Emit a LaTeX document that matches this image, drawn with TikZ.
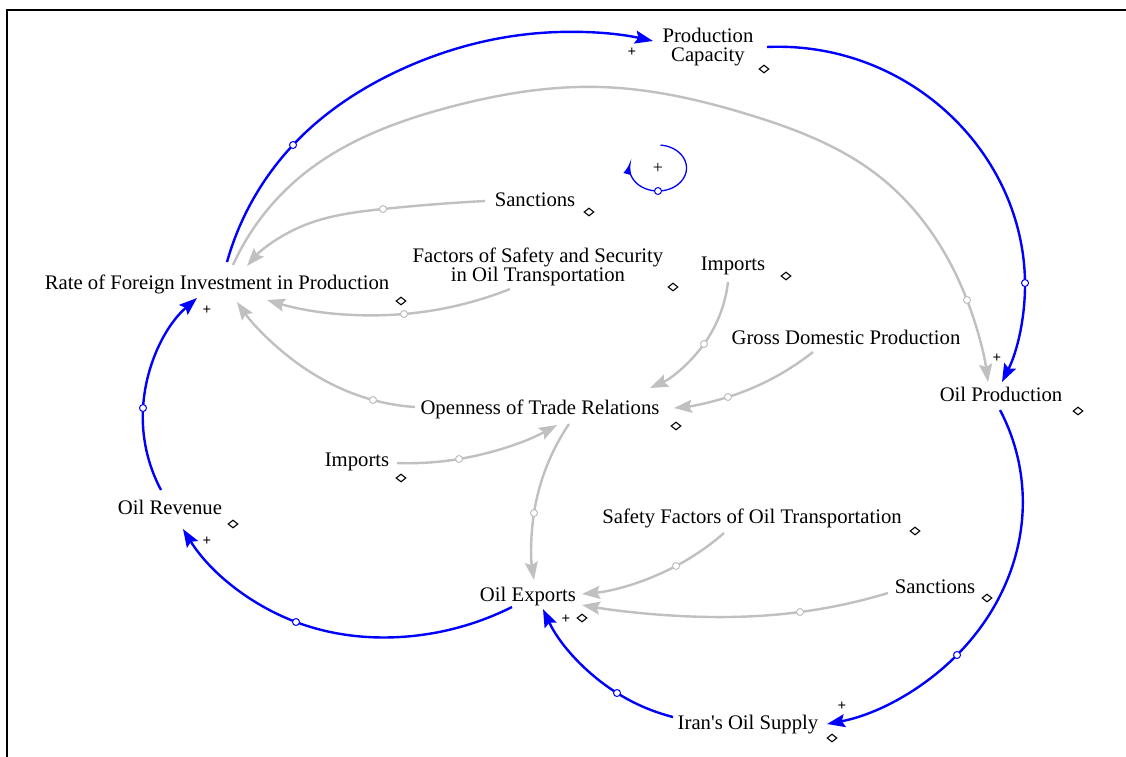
\documentclass[tikz,border=0pt]{standalone}
\usepackage{fontspec}
\setmainfont{Liberation Serif}[Ligatures=TeXOff]
\usetikzlibrary{arrows.meta,calc,shapes.geometric,hobby}
\definecolor{vblue}{RGB}{0,0,255}
\definecolor{vgray}{RGB}{192,192,192}
\begin{document}
\begin{tikzpicture}[x=1pt,y=-1pt,
  varnode/.style={inner sep=0pt, font=\fontsize{20.7}{20}\selectfont, text height=16pt, text depth=2.5pt},
  varnodetwo/.style={inner sep=0pt, align=center, font=\fontsize{20.7}{19.5}\selectfont},
  blink/.style={draw=vblue, line width=2.4pt, -{Stealth[length=18pt,width=13pt,inset=3pt]}},
  glink/.style={draw=vgray, line width=2.4pt, -{Stealth[length=18pt,width=13pt,inset=3pt]}},
  bh/.style={draw=vblue, fill=white, line width=1pt},
  gh/.style={draw=vgray, fill=white, line width=1pt},
  vdia/.style={draw=black, diamond, inner sep=0pt, minimum width=10pt, minimum height=8pt, line width=1.1pt},
  plussign/.style={inner sep=0pt, font=\fontsize{15}{15}\selectfont\bfseries},
]
\useasboundingbox (0,0) rectangle (1126,756);
\fill[white] (0,0) rectangle (1126,756);
\draw[line width=2pt] (7,757) -- (7,10) -- (1127,10);

% variables
\node[varnodetwo] (pc) at (708,47) {Production\\Capacity};
\node[varnode] (rate) at (217,283) {Rate of Foreign Investment in Production};
\node[varnode] (sancT) at (535,200) {Sanctions};
\node[varnodetwo] (fact) at (538,267) {Factors of Safety and Security\\in Oil Transportation};
\node[varnode] (impT) at (733,264) {Imports};
\node[varnode] (gdp) at (846,338) {Gross Domestic Production};
\node[varnode] (oilp) at (1001,395) {Oil Production};
\node[varnode] (open) at (540,408) {Openness of Trade Relations};
\node[varnode] (impM) at (357,460) {Imports};
\node[varnode] (rev) at (170,508) {Oil Revenue};
\node[varnode] (safe) at (752,517) {Safety Factors of Oil Transportation};
\node[varnode] (exp) at (528,595) {Oil Exports};
\node[varnode] (sancB) at (935,587) {Sanctions};
\node[varnode] (supply) at (748,723) {Iran's Oil Supply};

% connector end points
\coordinate (g1s) at ($(rate)+(16,-18)$);   \coordinate (g1e) at ($(oilp)+(-13,-13)$);
\coordinate (g2s) at ($(sancT)+(-50,1)$);   \coordinate (g2e) at ($(rate)+(30,-17)$);
\coordinate (g3s) at ($(fact)+(-28,22)$);   \coordinate (g3e) at ($(rate)+(50,17)$);
\coordinate (g4s) at ($(open)+(-125,-1)$);  \coordinate (g4e) at ($(rate)+(20,19)$);
\coordinate (g5s) at ($(impT)+(-5,18)$);    \coordinate (g5e) at ($(open)+(110,-20)$);
\coordinate (g6s) at ($(gdp)+(-33,14)$);    \coordinate (g6e) at ($(open)+(134,0)$);
\coordinate (g7s) at ($(impM)+(40,3)$);     \coordinate (g7e) at ($(open)+(17,17)$);
\coordinate (g8s) at ($(open)+(29,16)$);    \coordinate (g8e) at ($(exp)+(6,-15)$);
\coordinate (g9s) at ($(safe)+(-28,16)$);   \coordinate (g9e) at ($(exp)+(54,-1)$);
\coordinate (g10s) at ($(sancB)+(-47,6)$);  \coordinate (g10e) at ($(exp)+(54,10)$);
\coordinate (b1s) at ($(rate)+(10,-21)$);   \coordinate (b1e) at ($(pc)+(-55,-6)$);
\coordinate (b2s) at ($(pc)+(59,0)$);       \coordinate (b2e) at ($(oilp)+(1,-13)$);
\coordinate (b3s) at ($(oilp)+(-1,15)$);    \coordinate (b3e) at ($(supply)+(79,1)$);
\coordinate (b4s) at ($(supply)+(-75,-6)$); \coordinate (b4e) at ($(exp)+(15,14)$);
\coordinate (b5s) at ($(exp)+(-16,12)$);    \coordinate (b5e) at ($(rev)+(13,21)$);
\coordinate (b6s) at ($(rev)+(-9,-18)$);    \coordinate (b6e) at ($(rate)+(-20,15)$);

% link handles (positions)
\coordinate (hb1) at (293,145);  \coordinate (hb2) at (1025,283); \coordinate (hb3) at (957,655);
\coordinate (hb4) at (617,693);  \coordinate (hb5) at (296,622);  \coordinate (hb6) at (143,408);
\coordinate (hg1) at (967,300);  \coordinate (hg2) at (383,209);  \coordinate (hg3) at (404,314);
\coordinate (hg4) at (373,400);  \coordinate (hg5) at (704,344);  \coordinate (hg6) at (728,397);
\coordinate (hg7) at (459,459);  \coordinate (hg8) at (534,513);  \coordinate (hg9) at (676,566);
\coordinate (hg10) at (800,612);

% gray links
\draw[glink] (g1s) to[curve through={(300,177) .. (450,107) .. (600,87) .. (750,115) .. (880,177) .. (hg1)}] (g1e);
\draw[glink] (g2s) to[curve through={(hg2) .. (300,227)}] (g2e);
\draw[glink] (g3s) to[curve through={(hg3)}] (g3e);
\draw[glink] (g4s) to[curve through={(hg4) .. (293,360)}] (g4e);
\draw[glink] (g5s) to[curve through={(hg5)}] (g5e);
\draw[glink] (g6s) to[curve through={(hg6)}] (g6e);
\draw[glink] (g7s) to[curve through={(hg7)}] (g7e);
\draw[glink] (g8s) to[curve through={(hg8)}] (g8e);
\draw[glink] (g9s) to[curve through={(hg9)}] (g9e);
\draw[glink] (g10s) to[curve through={(hg10) .. (680,616)}] (g10e);

% blue links
\draw[blink] (b1s) to[curve through={(hb1) .. (400,70) .. (540,33)}] (b1e);
\draw[blink] (b2s) to[curve through={(960,125) .. (hb2)}] (b2e);
\draw[blink] (b3s) to[curve through={(1022,520) .. (hb3)}] (b3e);
\draw[blink] (b4s) to[curve through={(hb4)}] (b4e);
\draw[blink] (b5s) to[curve through={(400,637) .. (hb5)}] (b5e);
\draw[blink] (b6s) to[curve through={(hb6)}] (b6e);

% loop symbol
\coordinate (loop) at (658,168);
\draw[vblue, line width=1.3pt, -{Latex[length=12pt,width=8pt]}] plot[domain=-85:194, samples=60, smooth] ({658+28.5*cos(\x)},{168+23*sin(\x)});
\node[inner sep=0pt, font=\fontsize{18}{18}\selectfont] (loopplus) at (loop) {+};
\draw[bh] (658,191) circle (3.5);

% link handle circles
\foreach \h in {hb1,hb2,hb3,hb4,hb5,hb6} \draw[bh] (\h) circle (3.5);
\foreach \h in {hg1,hg2,hg3,hg4,hg5,hg6,hg7,hg8,hg9,hg10} \draw[gh] (\h) circle (3.5);

% polarity signs
\node[plussign] (s1) at (632,52) {+};
\node[plussign] (s2) at (997,358) {+};
\node[plussign] (s3) at (207,310) {+};
\node[plussign] (s4) at (207,541) {+};
\node[plussign] (s5) at (566,619) {+};
\node[plussign] (s6) at (842,706) {+};

% variable markers
\node[vdia] (d1) at (764,69) {};
\node[vdia] (d2) at (589,212) {};
\node[vdia] (d3) at (673,287) {};
\node[vdia] (d4) at (786,276) {};
\node[vdia] (d5) at (401,301) {};
\node[vdia] (d6) at (1078,411) {};
\node[vdia] (d7) at (676,426) {};
\node[vdia] (d8) at (401,478) {};
\node[vdia] (d9) at (233,524) {};
\node[vdia] (d10) at (915,531) {};
\node[vdia] (d11) at (582,618) {};
\node[vdia] (d12) at (987,598) {};
\node[vdia] (d13) at (832,738) {};
\end{tikzpicture}
\end{document}
